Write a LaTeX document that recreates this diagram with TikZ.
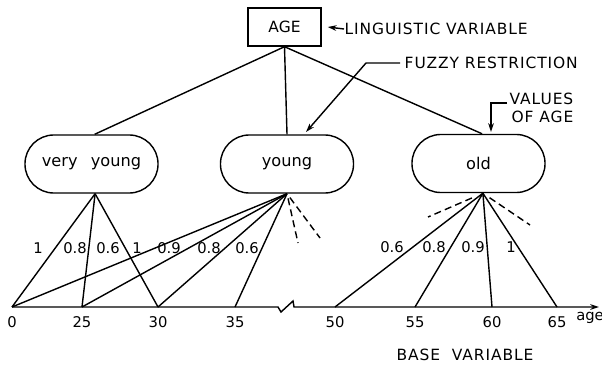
\documentclass[tikz,border=0pt]{standalone}
\usepackage{fontspec}
\setmainfont{DejaVu Sans}
\usepackage{tikz}
\usetikzlibrary{arrows.meta,positioning,calc}

\begin{document}
\begin{tikzpicture}[x=0.025cm, y=-0.025cm, line width=1pt,
    varbox/.style={draw, minimum width=1.825cm, minimum height=0.95cm, inner sep=0pt, font=\fontsize{11}{13}\selectfont},
    valbox/.style={draw, rounded corners=0.72cm, minimum width=3.325cm, minimum height=1.45cm, inner sep=0pt, font=\fontsize{11.5}{14}\selectfont},
    caps/.style={inner sep=0pt, font=\fontsize{11}{13}\selectfont\addfontfeature{LetterSpace=6}},
    numlbl/.style={inner sep=0pt, font=\fontsize{10.5}{12}\selectfont},
    pointer/.style={-{Stealth[length=2.2mm,width=1.4mm]}},
    hedge/.style={dashed, dash pattern=on 5pt off 3pt}]
    \useasboundingbox (0,0) rectangle (602,367);

    % Linguistic variable and its values
    \node[varbox] (age) at (284.5,27) {AGE};
    \node[valbox] (vy) at (91.5,164) {very\hspace{0.33cm}young};
    \node[valbox] (yg) at (287,164) {young};
    \node[valbox] (ol) at (478.5,163.5) {old};
    \draw (age.south) -- ([xshift=0.08cm]vy.north);
    \draw (age.south) -- (yg.north);
    \draw (age.south) -- ([xshift=0.09cm]ol.north);

    % Callouts
    \node[caps, anchor=west] (ling) at (344,29) {LINGUISTIC VARIABLE};
    \draw[pointer] (ling.west) -- ([xshift=0.15cm]age.east);
    \node[caps, anchor=west] (fuz) at (404,63) {FUZZY RESTRICTION};
    \coordinate (fbend) at (366,63);
    \coordinate (ftip) at (306,132);
    \draw[pointer] ([xshift=-0.1cm]fuz.west) -- (fbend) -- (ftip);
    \node[caps, align=right, anchor=west] (vals) at (509,108) {VALUES\\OF AGE};
    \coordinate (vbend) at (491,103);
    \coordinate (vtip) at (491,132);
    \draw[pointer] ($(vals.west)+(-2,-5)$) -- (vbend) -- (vtip);

    % Base variable axis
    \coordinate (t0) at (12,307);
    \coordinate (t25) at (82,307);
    \coordinate (t30) at (158,307);
    \coordinate (t35) at (235,307);
    \coordinate (t50) at (335,307);
    \coordinate (t55) at (415,307);
    \coordinate (t60) at (492,307);
    \coordinate (t65) at (557,307);
    \coordinate (aend) at (599,307);
    \draw[pointer] (t0) -- (278,307) -- (281,312) -- (293,301) -- (294,307) -- (aend);
    \node[numlbl] (l0) at (12,322) {0};
    \node[numlbl] (l25) at (82,322) {25};
    \node[numlbl] (l30) at (158,322) {30};
    \node[numlbl] (l35) at (235,322) {35};
    \node[numlbl] (l50) at (335,322) {50};
    \node[numlbl] (l55) at (415,322) {55};
    \node[numlbl] (l60) at (492,322) {60};
    \node[numlbl] (l65) at (557,322) {65};
    \node[numlbl] (agel) at (590,318) {age};
    \node[caps] (base) at (465,355) {BASE\ \ VARIABLE};

    % Membership grades
    \coordinate (vyb) at ([xshift=0.09cm]vy.south);
    \coordinate (ygb) at (yg.south);
    \coordinate (olb) at ([xshift=0.11cm]ol.south);
    \draw (vyb) -- (t0);
    \draw (vyb) -- (t25);
    \draw (vyb) -- (t30);
    \draw (ygb) -- (t0);
    \draw (ygb) -- (t25);
    \draw (ygb) -- (t30);
    \draw (ygb) -- (t35);
    \draw (olb) -- (t50);
    \draw (olb) -- (t55);
    \draw (olb) -- (t60);
    \draw (olb) -- (t65);
    \node[numlbl] (vy1) at (38,248) {1};
    \node[numlbl] (vy2) at (75,248) {0.8};
    \node[numlbl] (vy3) at (108,248) {0.6};
    \node[numlbl] (yg1) at (137,248) {1};
    \node[numlbl] (yg2) at (169,248) {0.9};
    \node[numlbl] (yg3) at (209,248) {0.8};
    \node[numlbl] (yg4) at (247,248) {0.6};
    \node[numlbl] (ol1) at (392,247) {0.6};
    \node[numlbl] (ol2) at (434,247) {0.8};
    \node[numlbl] (ol3) at (473,247) {0.9};
    \node[numlbl] (ol4) at (511,247) {1};

    % Further grades (not shown)
    \coordinate (yd1) at (298,243);
    \coordinate (yd2) at (320,238);
    \coordinate (od1) at (428,217);
    \coordinate (od2) at (530,225);
    \draw[hedge, shorten <=0.12cm] (ygb) -- (yd1);
    \draw[hedge, shorten <=0.12cm] (ygb) -- (yd2);
    \draw[hedge, shorten <=0.3cm] (olb) -- (od1);
    \draw[hedge, shorten <=0.2cm] (olb) -- (od2);
\end{tikzpicture}
\end{document}
